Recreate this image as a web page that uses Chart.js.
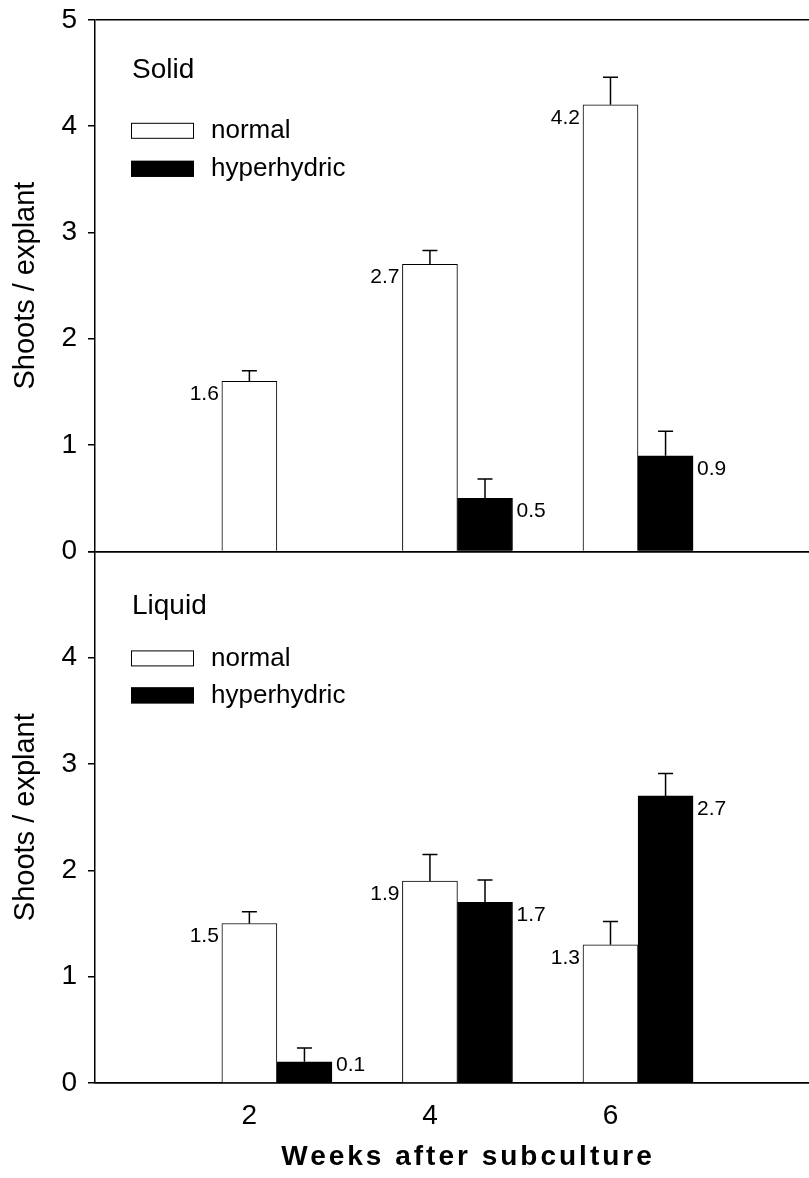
<!DOCTYPE html>
<html>
<head>
<meta charset="utf-8">
<script src="https://cdn.jsdelivr.net/npm/chart.js@4.4.1/dist/chart.umd.min.js"></script>
<style>
    html, body { margin: 0; padding: 0; background: #fff; overflow: hidden; }
    #wrap { width: 838px; height: 1178px; overflow: hidden; }
    /* the axis label padding pushes the plot down ~8px, pull the canvas up to compensate */
    #shoots-chart { display: block; margin-top: -8px; }
</style>
</head>
<body>
<div id="wrap"><canvas id="shoots-chart" width="838" height="1186"></canvas></div>
<script>
// --- Data ---
const weeks = [2, 4, 6];
const yTicks = [0, 1, 2, 3, 4, 5];

const solidNormal = [1.6, 2.7, 4.2];
const solidNormalErr = [0.10, 0.13, 0.26];
const solidNormalLabels = ['1.6', '2.7', '4.2'];

const solidHyper = [null, 0.5, 0.9];
const solidHyperErr = [null, 0.18, 0.23];
const solidHyperLabels = [null, '0.5', '0.9'];

const liquidNormal = [1.5, 1.9, 1.3];
const liquidNormalErr = [0.11, 0.25, 0.22];
const liquidNormalLabels = ['1.5', '1.9', '1.3'];

const liquidHyper = [0.2, 1.7, 2.7];
const liquidHyperErr = [0.13, 0.21, 0.21];
const liquidHyperLabels = ['0.1', '1.7', '2.7'];

// --- Look ---
const FONT = "'Liberation Sans', Arial, sans-serif";
const BAR_PX = 55;          // bar width in px
const HYPER_SHIFT = 0.61;   // hyperhydric bar sits right next to the normal one (in weeks)
const CAP_PX = 15;

Chart.defaults.font.family = FONT;
Chart.defaults.color = '#000';

const panels = [
    { axis: 'yTop', name: 'Solid', nameDy: 50, legendDy: [111, 149] },
    { axis: 'yBot', name: 'Liquid', nameDy: 55, legendDy: [107, 144] }
];

function toPoints(values, shift) {
    return weeks.map((w, i) => ({ x: w + shift, y: values[i] }));
}

function makeSet(label, values, errs, texts, axis, filled) {
    return {
        label: label,
        data: toPoints(values, filled ? HYPER_SHIFT : 0),
        errors: errs,
        texts: texts,
        textSide: filled ? 'right' : 'left',
        yAxisID: axis,
        backgroundColor: filled ? '#000' : '#fff',
        borderColor: '#000',
        borderWidth: 1,
        borderSkipped: 'start',
        grouped: false,
        barThickness: BAR_PX
    };
}

// frame lines at 0 and 5 only, tick marks everywhere
const edgeColor = c => (c.tick && (c.tick.value === 0 || c.tick.value === 5)) ? '#000' : 'rgba(0,0,0,0)';

function yAxis(hideTop) {
    return {
        type: 'linear',
        position: 'left',
        stack: 'panels',
        stackWeight: 1,
        min: 0,
        max: 5,
        afterBuildTicks: s => { s.ticks = yTicks.map(v => ({ value: v })); },
        afterFit: s => { s.width = 95; },
        ticks: {
            color: '#000',
            font: { size: 28 },
            padding: 11,
            callback: v => (hideTop && v === 5) ? '' : String(v)
        },
        grid: {
            drawOnChartArea: true,
            color: edgeColor,
            lineWidth: 1.5,
            tickColor: '#000',
            tickWidth: 1.5,
            tickLength: 7
        },
        border: { display: true, color: '#000', width: 1.5 },
        title: {
            display: true,
            text: 'Shoots / explant',
            color: '#000',
            font: { size: 29 },
            padding: { top: 9, bottom: 0 }
        }
    };
}

// error bars, value labels, panel names, legends, x title
const decorations = {
    id: 'decorations',
    afterDatasetsDraw(chart) {
        const ctx = chart.ctx;
        ctx.save();
        chart.data.datasets.forEach((ds, di) => {
            const meta = chart.getDatasetMeta(di);
            const yScale = chart.scales[ds.yAxisID];
            const base = yScale.getPixelForValue(0);
            meta.data.forEach((bar, i) => {
                const v = ds.data[i].y;
                if (v === null || v === undefined) return;
                const top = yScale.getPixelForValue(v);
                const errTop = yScale.getPixelForValue(v + ds.errors[i]);
                ctx.strokeStyle = '#000';
                ctx.lineWidth = 1.5;
                ctx.beginPath();
                ctx.moveTo(bar.x, top);
                ctx.lineTo(bar.x, errTop);
                ctx.moveTo(bar.x - CAP_PX / 2, errTop);
                ctx.lineTo(bar.x + CAP_PX / 2, errTop);
                ctx.stroke();

                ctx.fillStyle = '#000';
                ctx.font = '21px ' + FONT;
                ctx.textBaseline = 'middle';
                const ly = Math.min(top + 13, base - 18);
                if (ds.textSide === 'left') {
                    ctx.textAlign = 'right';
                    ctx.fillText(ds.texts[i], bar.x - bar.width / 2 - 3, ly);
                } else {
                    ctx.textAlign = 'left';
                    ctx.fillText(ds.texts[i], bar.x + bar.width / 2 + 4, ly);
                }
            });
        });
        ctx.restore();
    },
    afterDraw(chart) {
        const ctx = chart.ctx;
        const area = chart.chartArea;
        ctx.save();
        ctx.fillStyle = '#000';
        ctx.textBaseline = 'middle';
        ctx.textAlign = 'left';
        panels.forEach(p => {
            const s = chart.scales[p.axis];
            ctx.font = '28px ' + FONT;
            ctx.fillText(p.name, area.left + 37, s.top + p.nameDy);
            // legend from the two datasets of this panel
            const sets = chart.data.datasets.filter(d => d.yAxisID === p.axis);
            sets.forEach((d, k) => {
                const cy = s.top + p.legendDy[k];
                ctx.fillStyle = d.backgroundColor;
                ctx.fillRect(area.left + 36, cy - 8, 63, 16);
                ctx.strokeStyle = '#000';
                ctx.lineWidth = 1;
                ctx.strokeRect(area.left + 36.5, cy - 7.5, 62, 15);
                ctx.fillStyle = '#000';
                ctx.font = '26px ' + FONT;
                ctx.fillText(d.label, area.left + 116, cy);
            });
        });
        // x axis title, letter spaced
        ctx.font = 'bold 28px ' + FONT;
        ctx.letterSpacing = '3px';
        ctx.textAlign = 'center';
        ctx.fillText('Weeks after subculture', (area.left + area.right) / 2 + 1.5, area.bottom + 74);
        ctx.restore();
    }
};

const ctx = document.getElementById('shoots-chart').getContext('2d');
const shootsChart = new Chart(ctx, {
    type: 'bar',
    data: {
        datasets: [
            makeSet('normal', solidNormal, solidNormalErr, solidNormalLabels, 'yTop', false),
            makeSet('hyperhydric', solidHyper, solidHyperErr, solidHyperLabels, 'yTop', true),
            makeSet('normal', liquidNormal, liquidNormalErr, liquidNormalLabels, 'yBot', false),
            makeSet('hyperhydric', liquidHyper, liquidHyperErr, liquidHyperLabels, 'yBot', true)
        ]
    },
    options: {
        responsive: false,
        animation: false,
        layout: { padding: { top: 20, left: 0, right: 0, bottom: 0 } },
        plugins: {
            legend: { display: false },
            tooltip: { enabled: false }
        },
        scales: {
            x: {
                type: 'linear',
                position: 'bottom',
                offset: false,
                min: 0.29,
                max: 8.52,
                afterBuildTicks: s => { s.ticks = weeks.map(v => ({ value: v })); },
                afterFit: s => { s.height = 95; },
                ticks: { color: '#000', font: { size: 28 }, padding: 16, maxRotation: 0 },
                grid: { display: false, drawTicks: false, offset: false },
                border: { display: true, color: '#000', width: 1.5 }
            },
            yBot: yAxis(true),
            yTop: yAxis(false)
        }
    },
    plugins: [decorations]
});
</script>
</body>
</html>
